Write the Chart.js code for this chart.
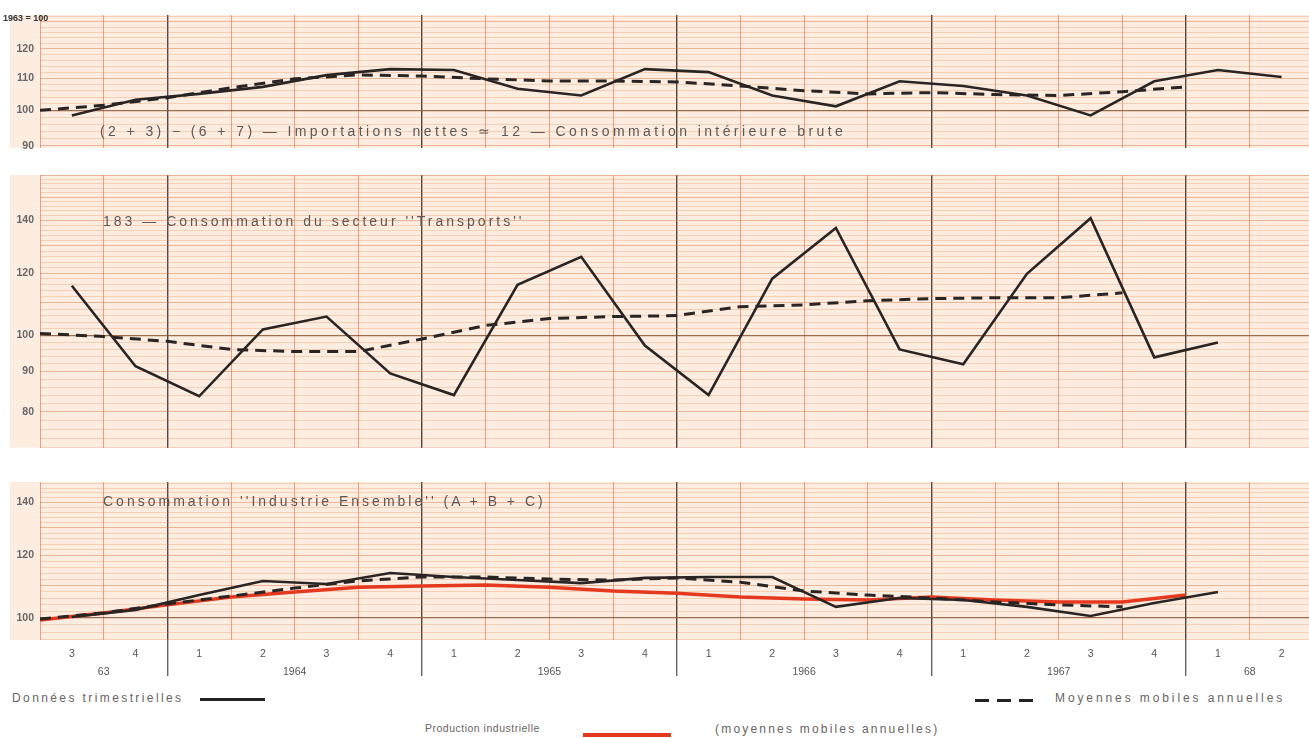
<!DOCTYPE html>
<html>
<head>
<meta charset="utf-8">
<script src="https://cdn.jsdelivr.net/npm/chart.js@4.4.0/dist/chart.umd.min.js"></script>
<style>
body { margin:0; background:#fff; width:1309px; height:738px; position:relative; overflow:hidden; font-family:"Liberation Sans", Arial, sans-serif; color:#5a5656; }
.pane { position:absolute; left:0; }
.t { position:absolute; white-space:nowrap; }
.title { font-size:14px; letter-spacing:3px; color:#5e5755; }
.leg { font-size:12px; letter-spacing:2.4px; color:#6a6464; }
</style>
</head>
<body>
<div class="pane" style="top:0"><canvas id="c1" width="1309" height="160"></canvas></div>
<div class="pane" style="top:160px"><canvas id="c2" width="1309" height="300"></canvas></div>
<div class="pane" style="top:460px"><canvas id="c3" width="1309" height="230"></canvas></div>

<div class="t" style="left:3px;top:13px;font-size:9px;font-weight:bold;color:#333">1963 = 100</div>
<div class="t title" style="left:100px;top:123px;letter-spacing:3.4px">(2 + 3) − (6 + 7)  —  Importations nettes ≃ 12  —  Consommation intérieure brute</div>
<div class="t title" style="left:103px;top:213px">183  —  Consommation du secteur ''Transports''</div>
<div class="t title" style="left:103px;top:493px">Consommation ''Industrie Ensemble'' (A + B + C)</div>

<div class="t leg" style="left:12px;top:691px">Données trimestrielles</div>
<div class="t" style="left:200px;top:698px;width:65px;height:3px;background:#222"></div>
<div class="t" style="left:975px;top:699px;width:62px;height:3px;background:repeating-linear-gradient(90deg,#222 0 14px,transparent 14px 22px)"></div>
<div class="t leg" style="left:1055px;top:691px;letter-spacing:2.9px">Moyennes mobiles annuelles</div>
<div class="t leg" style="left:425px;top:722px;font-size:10.5px;letter-spacing:0.5px">Production industrielle</div>
<div class="t" style="left:583px;top:733px;width:88px;height:4px;background:#e5391f"></div>
<div class="t leg" style="left:715px;top:722px;letter-spacing:2.2px">(moyennes mobiles annuelles)</div>

<script>
// trimestres, de 1963 T3 a 1968 T2
var quarters = ['3','4','1','2','3','4','1','2','3','4','1','2','3','4','1','2','3','4','1','2']
var quarterYear = ['63','63','1964','1964','1964','1964','1965','1965','1965','1965',
  '1966','1966','1966','1966','1967','1967','1967','1967','68','68']

// consommation interieure brute
var brute = [98.5,103.2,105,107.2,111,113,112.7,106.6,104.5,113,112,104.5,101.2,109,107.5,104.5,98.5,109,112.7,110.4]
var bruteMoy = [100,101.5,103.8,106.9,109.8,111.1,110.7,109.8,109.1,109.1,108.8,107.5,106,105,105.4,104.8,104.5,105.7,107.2]
var bruteTicks = [90,100,110,120]

// secteur transports
var transports = [115.7,91.4,83.7,101.8,105.7,89.5,84,116,125.9,97.1,84,118.1,137,96,91.9,119.8,141,93.8,98]
var transportsMoy = [100.6,99.7,98.3,96,95.4,95.4,99,103,105.1,105.7,106,108.8,109.4,110.7,111.4,111.7,111.7,113.3]
var transportsTicks = [80,90,100,120,140]

// industrie ensemble
var industrie = [100.3,102.4,106.9,111.4,110.4,114,112.7,111.7,110.7,112.4,112.7,112.7,103.3,106,105.4,103.3,100.6,104.5,107.9]
var industrieMoy = [99.7,101.5,104.2,106.6,109.1,111.4,112.7,112.7,112,111.7,112.4,111,108.2,106.9,106,104.8,103.9,103.3]
var production = [99.4,101.5,103.9,106.3,107.9,109.4,109.8,110.1,109.4,108.2,107.5,106.3,105.7,105.4,106.3,105.4,104.8,104.8,106.9]
var industrieTicks = [100,120,140]

var YEAR_LINE = '#4d4543', Q_LINE = '#ee9e7e'
var H_LINE = 'rgba(228,140,90,0.32)', H_TEN = 'rgba(215,125,75,0.5)', H_100 = 'rgba(140,85,50,0.85)'
var INK = '#2a2525', RED = '#e5391f'

// limites d'annees et centres des libelles
var yearStarts = [], yearCenters = {}
var first = 0
for (var i = 1; i <= quarterYear.length; i++) {
  if (i == quarterYear.length || quarterYear[i] != quarterYear[i-1]) {
    if (i < quarterYear.length) yearStarts.push(i)
    yearCenters[(first + i) / 2] = quarterYear[first]
    first = i
  }
}

function quarterly(vals) { return vals.map(function(v, i){ return {x: i + 0.5, y: v} }) }
function averaged(vals) { return vals.map(function(v, i){ return {x: i, y: v} }) }

function solid(vals) {
  return {data: quarterly(vals), borderColor: INK, borderWidth: 2.6, pointRadius: 0, tension: 0}
}
function dashed(vals) {
  return {data: averaged(vals), borderColor: INK, borderWidth: 3, borderDash: [11,7], pointRadius: 0, tension: 0}
}

var paper = {
  id: 'paper',
  beforeDraw: function(c) {
    var a = c.chartArea, ctx = c.ctx
    ctx.save()
    ctx.fillStyle = '#fdede1'
    ctx.fillRect(10, a.top, a.right - 10, a.bottom - a.top)
    ctx.restore()
  }
}

function xAxis(showLabels, h) {
  return {
    type: 'linear', min: 0, max: 19.93,
    afterBuildTicks: function(s) {
      var t = []
      for (var v = 0; v <= 19.5; v += 0.5) t.push({value: v})
      s.ticks = t
    },
    afterFit: function(s) { s.height = h },
    border: {display: false},
    grid: {
      color: function(c) {
        var v = c.tick.value
        if (v % 1) return 'rgba(0,0,0,0)'
        return yearStarts.indexOf(v) >= 0 ? YEAR_LINE : Q_LINE
      },
      lineWidth: function(c) { return yearStarts.indexOf(c.tick.value) >= 0 ? 1.4 : 1 },
      drawTicks: showLabels,
      tickLength: 36,
      tickWidth: 1.4,
      tickColor: function(c) { return yearStarts.indexOf(c.tick.value) >= 0 ? '#6a6462' : 'rgba(0,0,0,0)' }
    },
    ticks: {
      display: showLabels, autoSkip: false, maxRotation: 0, padding: -31,
      color: '#555', font: {family: 'Liberation Sans', size: 10.5, lineHeight: 1.7},
      callback: function(v) {
        if (v % 1) return quarters[Math.floor(v)]
        return yearCenters[v] ? ['', yearCenters[v]] : ''
      }
    }
  }
}

function yAxis(min, max, labels) {
  return {
    type: 'logarithmic', min: min, max: max,
    afterBuildTicks: function(s) {
      var t = []
      for (var v = Math.ceil(min / 2) * 2; v <= max; v += 2) t.push({value: v})
      s.ticks = t
    },
    afterFit: function(s) { s.width = 40 },
    border: {display: false},
    grid: {
      drawTicks: false,
      color: function(c) {
        var v = c.tick.value
        if (v == 100) return H_100
        return v % 10 == 0 ? H_TEN : H_LINE
      },
      lineWidth: function(c) { return c.tick.value == 100 ? 1.3 : 1 }
    },
    ticks: {
      autoSkip: false, padding: 6, color: '#666',
      font: {family: 'Liberation Sans', size: 10.5, weight: 'bold'},
      callback: function(v) { return labels.indexOf(v) >= 0 ? String(v) : '' }
    }
  }
}

function panel(id, datasets, ymin, ymax, labels, showX, xh, padTop) {
  new Chart(document.getElementById(id), {
    type: 'line',
    data: {datasets: datasets},
    options: {
      responsive: false, animation: false,
      layout: {padding: {top: padTop, right: 0, left: 0, bottom: 0}},
      plugins: {legend: {display: false}, tooltip: {enabled: false}},
      scales: {x: xAxis(showX, xh), y: yAxis(ymin, ymax, labels)}
    },
    plugins: [paper]
  })
}

panel('c1', [solid(brute), dashed(bruteMoy)], 89.5, 132.7, bruteTicks, false, 10, 15)
panel('c2', [solid(transports), dashed(transportsMoy)], 72, 160, transportsTicks, false, 10, 15)
panel('c3', [solid(industrie), dashed(industrieMoy),
  {data: averaged(production), borderColor: RED, borderWidth: 3.5, pointRadius: 0, tension: 0}],
  93.8, 148.6, industrieTicks, true, 50, 22)
</script>
</body>
</html>
